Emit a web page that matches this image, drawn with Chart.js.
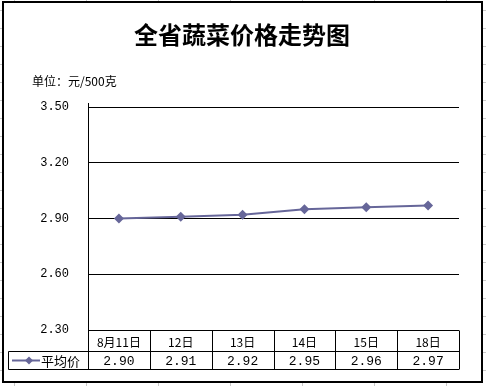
<!DOCTYPE html>
<html>
<head>
<meta charset="utf-8">
<script src="https://cdn.jsdelivr.net/npm/chart.js@4/dist/chart.umd.min.js"></script>
<style>
html,body{margin:0;padding:0;background:#fff;}
#wrap{width:486px;height:386px;position:relative;}
</style>
</head>
<body>
<div id="wrap"><canvas id="c" width="486" height="386"></canvas></div>
<script>
const chartTitle = "全省蔬菜价格走势图";
const unitLabel = "单位：元/500克";
const categories = ["8月11日", "12日", "13日", "14日", "15日", "18日"];
const seriesName = "平均价";
const avgPrice = [2.90, 2.91, 2.92, 2.95, 2.96, 2.97];
const yTicks = [2.30, 2.60, 2.90, 3.20, 3.50];

const lineColor = "#666699";
const cjk = '"Noto Sans CJK SC", "Noto Sans", sans-serif';
const mono = '"Liberation Mono", "DejaVu Sans Mono", monospace';

const decor = {
  id: "decor",
  beforeDraw(chart) {
    const ctx = chart.ctx;
    const W = chart.width, H = chart.height;
    ctx.save();
    ctx.fillStyle = "#fff";
    ctx.fillRect(0, 0, W, H);
    // spreadsheet gridlines behind the chart
    ctx.strokeStyle = "#c8c8c8";
    ctx.lineWidth = 1;
    ctx.beginPath();
    for (let y = 10; y < H; y += 18) { ctx.moveTo(0, y + 0.5); ctx.lineTo(W, y + 0.5); }
    for (let x = 14; x < W; x += 72) { ctx.moveTo(x + 0.5, 0); ctx.lineTo(x + 0.5, H); }
    ctx.stroke();
    // chart area box
    ctx.fillStyle = "#fff";
    ctx.fillRect(2, 1, 481, 382);
    ctx.strokeStyle = "#000";
    ctx.lineWidth = 2;
    ctx.strokeRect(3, 2, 479, 380);
    ctx.restore();
  },
  afterDraw(chart) {
    const ctx = chart.ctx;
    const area = chart.chartArea;
    const xs = chart.scales.x;
    ctx.save();
    // title
    ctx.fillStyle = "#000";
    ctx.textAlign = "center";
    ctx.textBaseline = "middle";
    ctx.font = "bold 24px " + cjk;
    ctx.fillText(chartTitle, 242, 35);
    // unit
    ctx.textAlign = "left";
    ctx.font = "12px " + cjk;
    ctx.fillText(unitLabel, 32, 81);

    // small extension of the value axis above the top gridline
    ctx.strokeStyle = "#000";
    ctx.lineWidth = 1;
    ctx.beginPath();
    const ax = Math.round(area.left) + 0.5;
    ctx.moveTo(ax, area.top - 4); ctx.lineTo(ax, area.top);
    ctx.stroke();

    // data table
    const n = categories.length;
    const colW = (area.right - area.left) / n;
    const y0 = Math.round(area.bottom) + 0.5, y1 = 351.5, y2 = 369.5;
    const legL = 8.5;
    ctx.beginPath();
    ctx.moveTo(area.left, y0); ctx.lineTo(area.right, y0);
    ctx.moveTo(legL, y1); ctx.lineTo(area.right, y1);
    ctx.moveTo(legL, y2); ctx.lineTo(area.right, y2);
    ctx.moveTo(legL, y1); ctx.lineTo(legL, y2);
    for (let k = 0; k <= n; k++) {
      const x = Math.round(area.left + k * colW) + 0.5;
      ctx.moveTo(x, y0); ctx.lineTo(x, y2);
    }
    ctx.stroke();

    ctx.fillStyle = "#000";
    ctx.textAlign = "center";
    ctx.textBaseline = "middle";
    for (let i = 0; i < n; i++) {
      const cx = xs.getPixelForValue(i);
      ctx.font = "12px " + cjk;
      ctx.fillText(categories[i], cx, (y0 + y1) / 2 + 1);
      ctx.font = "13px " + mono;
      ctx.fillText(avgPrice[i].toFixed(2), cx, (y1 + y2) / 2 + 1);
    }
    // legend key
    const ly = (y1 + y2) / 2;
    ctx.strokeStyle = lineColor;
    ctx.lineWidth = 2;
    ctx.beginPath();
    ctx.moveTo(12, ly); ctx.lineTo(40, ly);
    ctx.stroke();
    ctx.fillStyle = lineColor;
    ctx.beginPath();
    ctx.moveTo(29, ly - 4); ctx.lineTo(33, ly); ctx.lineTo(29, ly + 4); ctx.lineTo(25, ly);
    ctx.closePath();
    ctx.fill();
    ctx.fillStyle = "#000";
    ctx.textAlign = "left";
    ctx.font = "13px " + cjk;
    ctx.fillText(seriesName, 41, ly + 1);
    ctx.restore();
  }
};

new Chart(document.getElementById("c"), {
  type: "line",
  data: {
    labels: categories,
    datasets: [{
      label: seriesName,
      data: avgPrice,
      borderColor: lineColor,
      backgroundColor: lineColor,
      borderWidth: 2,
      pointStyle: "rectRot",
      pointRadius: 5,
      pointHoverRadius: 5,
      pointBackgroundColor: lineColor,
      pointBorderColor: lineColor,
      pointBorderWidth: 0,
      tension: 0
    }]
  },
  options: {
    responsive: false,
    animation: false,
    devicePixelRatio: 1,
    events: [],
    layout: { padding: { left: 0, right: 27, top: 107, bottom: 56 } },
    plugins: {
      legend: { display: false },
      title: { display: false },
      tooltip: { enabled: false }
    },
    scales: {
      x: {
        type: "category",
        offset: true,
        display: false
      },
      y: {
        min: 2.30,
        max: 3.50,
        afterFit(scale) { scale.width = 88; },
        afterBuildTicks(scale) { scale.ticks = yTicks.map(v => ({ value: v })); },
        grid: { color: "#000", lineWidth: 1, drawTicks: false },
        border: { color: "#000", width: 1 },
        ticks: {
          padding: 19,
          color: "#000",
          font: { family: "Liberation Mono", size: 12 },
          callback: v => Number(v).toFixed(2)
        }
      }
    }
  },
  plugins: [decor]
});
</script>
</body>
</html>
